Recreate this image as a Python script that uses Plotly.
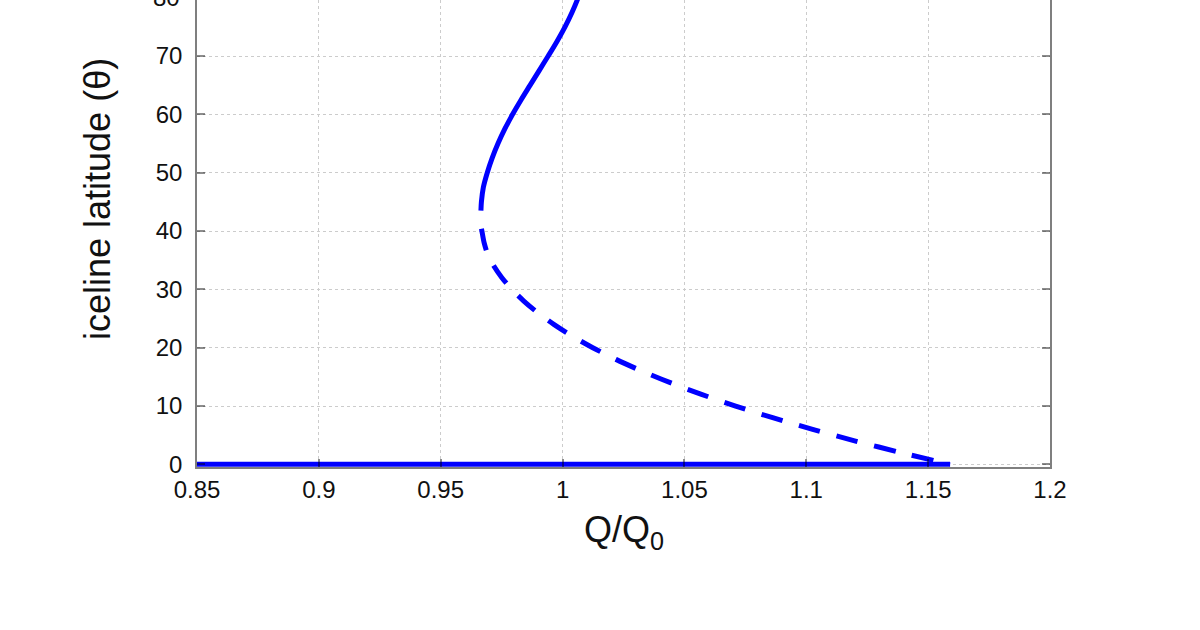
import plotly.graph_objects as go

# Stable upper branch (solid)
upper_theta = [43.5, 45.0, 47.5, 50.0, 52.5, 55.0, 57.5, 60.0, 62.5,
               65.0, 67.5, 70.0, 72.5, 75.0, 77.5, 80.0, 82.5]
upper_q = [0.9665, 0.9667, 0.9675, 0.9691, 0.9711, 0.9735, 0.9763, 0.9795, 0.9830,
           0.9867, 0.9904, 0.9941, 0.9977, 1.0010, 1.0039, 1.0064, 1.0085]

# Unstable branch (dashed)
lower_theta = [40.4, 40.0, 38.0, 36.0, 34.0, 32.0, 30.0, 28.0, 26.0, 24.0, 22.0,
               20.0, 18.0, 16.0, 14.0, 12.0, 10.0, 8.0, 6.0, 4.0, 2.0, 0.0]
lower_q = [0.9667, 0.9669, 0.9678, 0.9693, 0.9718, 0.9751, 0.9792, 0.9841, 0.9898, 0.9964, 1.0039,
           1.0124, 1.0219, 1.0325, 1.0442, 1.0570, 1.0710, 1.0862, 1.1026, 1.1202, 1.1390, 1.1590]

# Ice-free branch along zero
zero_q = [0.85, 1.159]
zero_theta = [0, 0]

x_ticks = [0.85, 0.9, 0.95, 1.0, 1.05, 1.1, 1.15, 1.2]
x_tick_labels = ["0.85", "0.9", "0.95", "1", "1.05", "1.1", "1.15", "1.2"]
y_ticks = [0, 10, 20, 30, 40, 50, 60, 70, 80]
y_tick_labels = ["0", "10", "20", "30", "40", "50", "60", "70", "80"]

BLUE = "#0000ff"
FONT = "Liberation Sans, Arial, sans-serif"
TXT = "#111111"

fig = go.Figure()
fig.add_trace(go.Scatter(x=lower_q, y=lower_theta, mode="lines",
                         line=dict(color=BLUE, width=5, dash="22px,17px", shape="spline", smoothing=0.8),
                         showlegend=False, hoverinfo="skip"))
fig.add_trace(go.Scatter(x=upper_q, y=upper_theta, mode="lines",
                         line=dict(color=BLUE, width=5, shape="spline", smoothing=0.8),
                         showlegend=False, hoverinfo="skip"))
fig.add_trace(go.Scatter(x=zero_q, y=zero_theta, mode="lines",
                         line=dict(color=BLUE, width=5),
                         showlegend=False, hoverinfo="skip"))

y_top = 79.6
y_bot = -0.45
plot_h = 630 - 163  # plot area height in px (t=0, b=163)

fig.update_layout(
    width=1200, height=630,
    margin=dict(l=197, r=150, t=0, b=163),
    paper_bgcolor="white", plot_bgcolor="white",
    font=dict(family=FONT, color=TXT, size=24),
    xaxis=dict(
        range=[0.85, 1.2], tickvals=x_ticks, ticktext=x_tick_labels,
        showline=True, linecolor="rgba(0,0,0,0.5)", linewidth=1.5, mirror=False,
        ticks="inside", ticklen=8, tickcolor="rgba(0,0,0,0.45)", tickwidth=1.5,
        showgrid=True, gridcolor="#cccccc", griddash="dot", gridwidth=1,
        zeroline=False, tickfont=dict(size=24),
    ),
    yaxis=dict(
        range=[y_bot, y_top], tickvals=y_ticks, ticktext=y_tick_labels,
        showline=True, linecolor="rgba(0,0,0,0.5)", linewidth=1.5, mirror="ticks",
        ticks="inside", ticklen=8, tickcolor="rgba(0,0,0,0.45)", tickwidth=1.5,
        showgrid=True, gridcolor="#cccccc", griddash="dot", gridwidth=1,
        zeroline=False, tickfont=dict(size=24), ticklabelstandoff=8,
    ),
)

# Partially visible "80" label (clipped at top edge of the canvas)
fig.add_annotation(x=0, xref="paper", y=(80 - y_bot) / (y_top - y_bot), yref="paper",
                   text="80", showarrow=False, xanchor="right", yanchor="middle",
                   xshift=-15, font=dict(size=24, family=FONT, color=TXT))

# Axis titles
fig.add_annotation(x=0, xref="paper", y=(plot_h - 199) / plot_h, yref="paper",
                   text="iceline latitude (θ)", textangle=-90, showarrow=False,
                   xanchor="center", yanchor="middle", xshift=-100,
                   font=dict(size=36, family=FONT, color=TXT))
fig.add_annotation(x=0.5, xref="paper", y=0, yref="paper",
                   text="Q/Q<sub>0</sub>", showarrow=False,
                   xanchor="center", yanchor="top", yshift=-40,
                   font=dict(size=36, family=FONT, color=TXT))

fig.write_html("out.html", config={"displayModeBar": False},
               post_script="document.body.style.margin='0';")
